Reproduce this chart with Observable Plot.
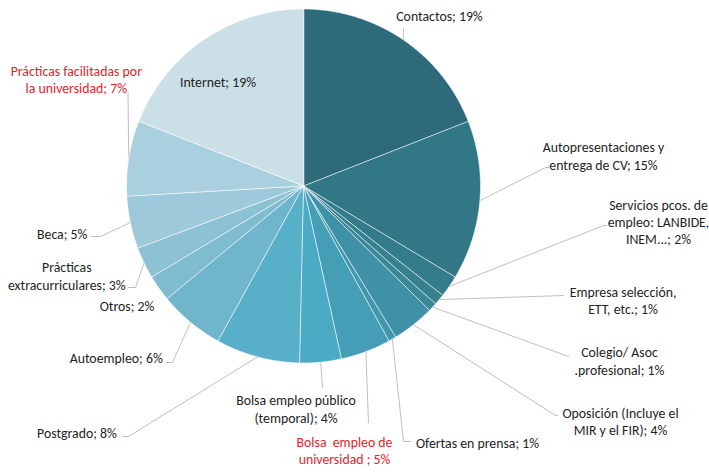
<!DOCTYPE html>
<html>
<head>
<meta charset="utf-8">
<script src="https://cdn.jsdelivr.net/npm/d3@7"></script>
<script src="https://cdn.jsdelivr.net/npm/@observablehq/plot@0.6"></script>
<style>
  html, body { margin: 0; padding: 0; background: #fff; }
  svg text { white-space: pre; }
</style>
</head>
<body>
<div id="chart"></div>
<script>
// ---- data ----
const categories = [
  "Contactos", "Autopresentaciones y entrega de CV", "Servicios pcos. de empleo: LANBIDE, INEM...",
  "Empresa selección, ETT, etc.", "Colegio/ Asoc .profesional", "Oposición (Incluye el MIR y el FIR)",
  "Ofertas en prensa", "Bolsa empleo de universidad", "Bolsa empleo público (temporal)",
  "Postgrado", "Autoempleo", "Otros", "Prácticas extracurriculares", "Beca",
  "Prácticas facilitadas por la universidad", "Internet"
];
const values = [19.1, 14.6, 2.0, 1.0, 0.8, 3.9, 0.7, 4.6, 3.8, 7.7, 6.0, 2.4, 2.9, 4.8, 6.9, 19.1];
const labelTexts = [
  "Contactos; 19%", "Autopresentaciones y\nentrega de CV; 15%", "Servicios pcos. de\nempleo: LANBIDE,\nINEM...; 2%",
  "Empresa selección,\nETT, etc.; 1%", "Colegio/ Asoc\n.profesional; 1%", "Oposición (Incluye el\nMIR y el FIR); 4%",
  "Ofertas en prensa; 1%", "Bolsa  empleo de\nuniversidad ; 5%", "Bolsa empleo público\n(temporal); 4%",
  "Postgrado; 8%", "Autoempleo; 6%", "Otros; 2%", "Prácticas\nextracurriculares; 3%", "Beca; 5%",
  "Prácticas facilitadas por\nla universidad; 7%", "Internet; 19%"
];
const highlighted = ["Bolsa empleo de universidad", "Prácticas facilitadas por la universidad"];
const colors = [
  "#2D6B7B", "#327785", "#347C8B", "#37818F", "#3A8797", "#3F91A7", "#4297AE", "#449EB5",
  "#4BAAC4", "#58AFC8", "#6FB5CC", "#7FBCD0", "#8DC2D4", "#9DC9DA", "#AACFDE", "#CBDFE7"
];

// ---- layout (pixels) ----
const W = 709, H = 473, CX = 303, CY = 185.5, R = 177;
const ux = px => (px - CX) / R;
const uy = py => (CY - py) / R;
// label centre and leader bend points (pixels); leader starts at slice mid-angle on the rim
const labelLayout = [
  {t: [439, 15],    bend: [[403, 28]]},
  {t: [603, 155],   bend: [[545, 167], [548, 167]]},
  {t: [658, 221],   bend: [[603, 225], [606, 225]]},
  {t: [622.5, 299.5], bend: [[563, 295]]},
  {t: [619, 360],   bend: [[568, 356]]},
  {t: [620, 420.5], bend: [[555, 415], [557, 415]]},
  {t: [477, 442],   bend: [[403, 441], [410, 441]]},
  {t: [344, 449.5], bend: [[368, 422]]},
  {t: [295.5, 408], bend: [[322, 387]]},
  {t: [76.5, 432],  bend: [[128, 436], [122, 436]]},
  {t: [115.7, 357], bend: [[172, 362], [166, 362]]},
  {t: [126.5, 305], bend: null},
  {t: [66.3, 275],  bend: [[135, 287], [128, 287]]},
  {t: [61.7, 233],  bend: [[100, 236], [91, 236]]},
  {t: [75.8, 78.5], bend: [[127.5, 92]]},
  {t: [217.5, 81],  bend: null}
];

// ---- pie geometry ----
const arcs = d3.pie().sort(null).value(d => d)(values);
const slicePts = [];
arcs.forEach((a, i) => {
  const cat = categories[i];
  slicePts.push({cat, x: 0, y: 0});
  const n = Math.max(2, Math.ceil((a.endAngle - a.startAngle) / 0.005));
  for (let k = 0; k <= n; k++) {
    const t = a.startAngle + (a.endAngle - a.startAngle) * k / n;
    slicePts.push({cat, x: Math.sin(t), y: Math.cos(t)});
  }
});

const leaderPts = [];
const labelRows = [];
arcs.forEach((a, i) => {
  const L = labelLayout[i];
  const mid = (a.startAngle + a.endAngle) / 2;
  if (L.bend) {
    leaderPts.push({id: i, x: Math.sin(mid), y: Math.cos(mid)});
    L.bend.forEach(p => leaderPts.push({id: i, x: ux(p[0]), y: uy(p[1])}));
  }
  labelRows.push({
    text: labelTexts[i], x: ux(L.t[0]), y: uy(L.t[1]),
    red: highlighted.includes(categories[i])
  });
});

const chart = Plot.plot({
  width: W, height: H, margin: 0,
  style: {fontFamily: "Carlito, Lato, 'Open Sans', sans-serif", background: "#fff"},
  x: {domain: [ux(0), ux(W)], axis: null},
  y: {domain: [uy(H), uy(0)], axis: null},
  color: {domain: categories, range: colors},
  marks: [
    Plot.line(leaderPts, {x: "x", y: "y", z: "id", stroke: "#BFBFBF", strokeWidth: 1, curve: "linear"}),
    Plot.line(slicePts, {x: "x", y: "y", z: "cat", fill: "cat", stroke: "#fff", strokeWidth: 0.6, curve: "linear-closed"}),
    Plot.text(labelRows, {
      x: "x", y: "y", text: "text", fontSize: 13.8, lineHeight: 1.25,
      textAnchor: "middle", lineAnchor: "middle",
      fill: d => d.red ? "#E3242B" : "#1E1E1E"
    })
  ]
});
document.getElementById("chart").appendChild(chart);
</script>
</body>
</html>
